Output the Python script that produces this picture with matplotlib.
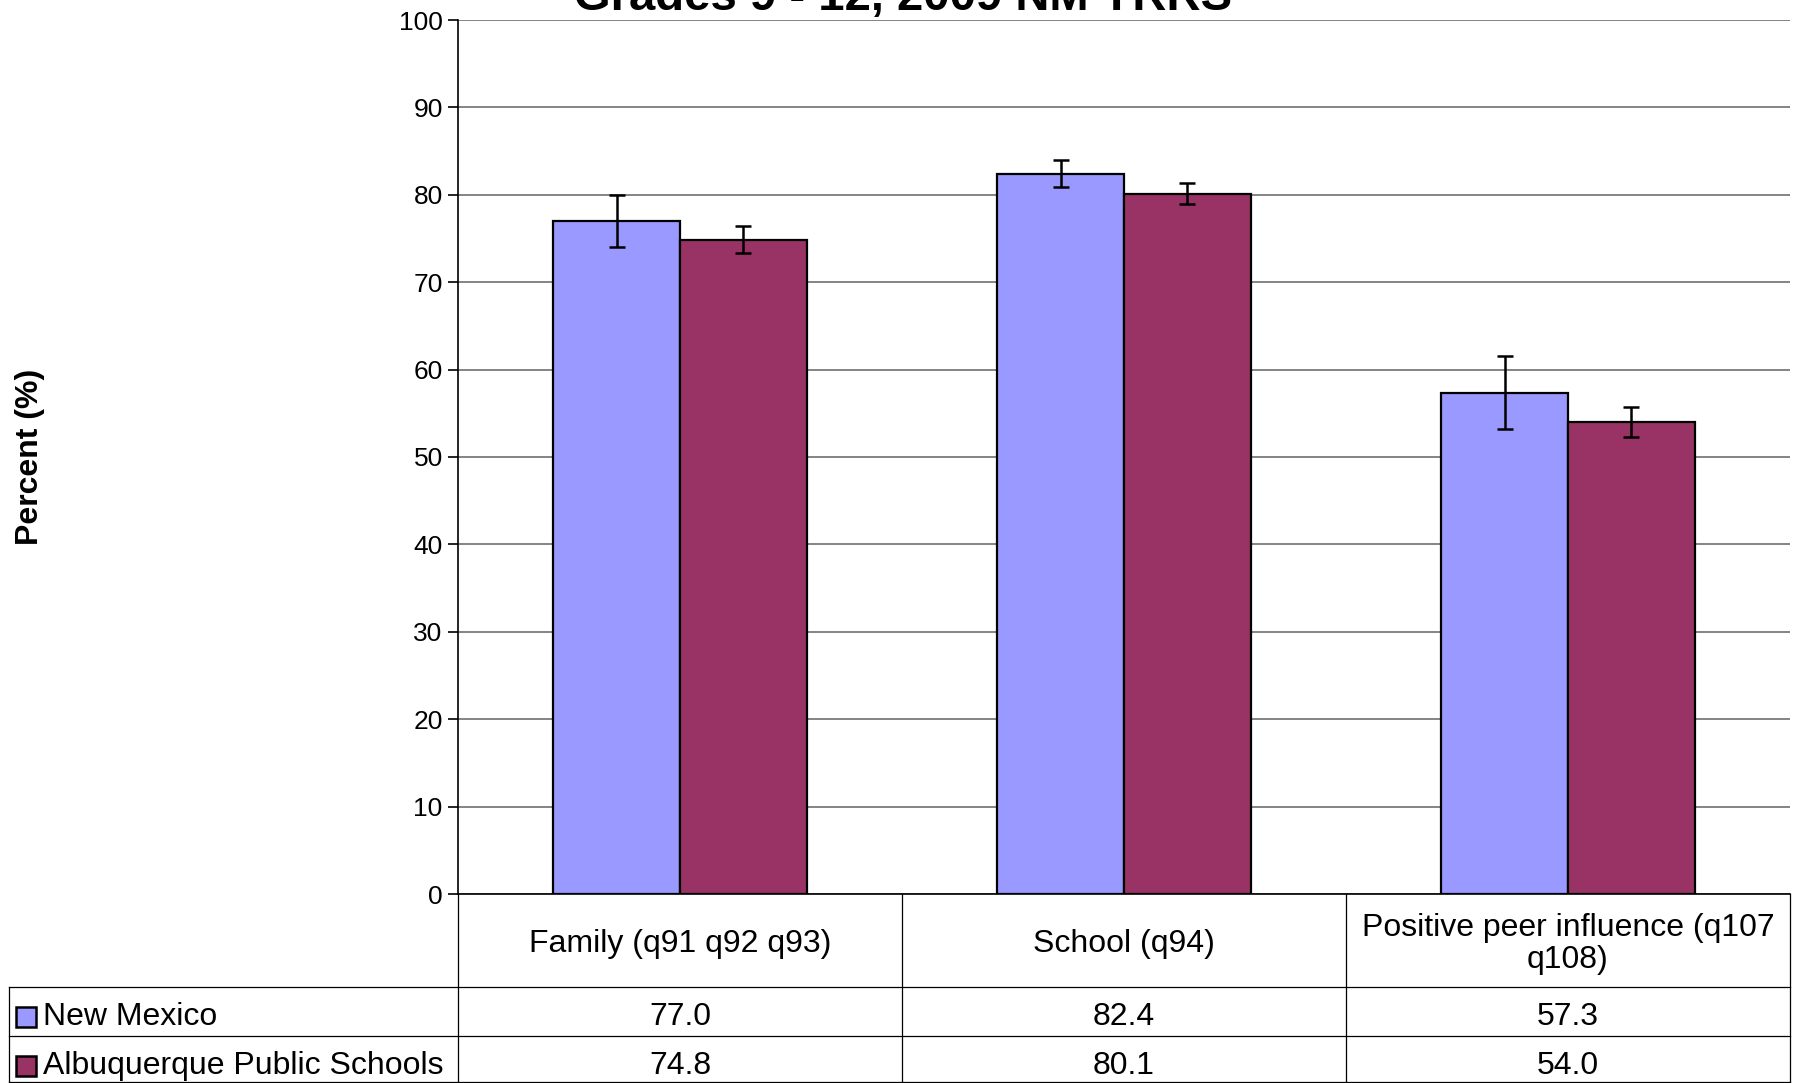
import matplotlib
matplotlib.use("Agg")
import matplotlib.pyplot as plt
import matplotlib.transforms as mtransforms
from matplotlib.patches import Rectangle
import numpy as np

plt.rcParams['font.family'] = ['Liberation Sans', 'DejaVu Sans']

# data
categories = ['Family (q91 q92 q93)', 'School (q94)', 'Positive peer influence (q107\nq108)']
series = ['New Mexico', 'Albuquerque Public Schools']
nm = [77.0, 82.4, 57.3]
aps = [74.8, 80.1, 54.0]
nm_lo = [74.0, 80.9, 53.2]
nm_hi = [80.0, 84.0, 61.6]
aps_lo = [73.3, 79.0, 52.3]
aps_hi = [76.4, 81.3, 55.7]
colors = ['#9999FF', '#993366']

W, H = 1795, 1083
fig = plt.figure(figsize=(W / 100, H / 100), dpi=100)

def fx(px):
    return px / W

def fy(py):
    return 1 - py / H

ax = fig.add_axes([fx(458), fy(894), fx(1790) - fx(458), fy(20) - fy(894)])

x = np.arange(len(categories))
w = 1 / 3.5
vals = [nm, aps]
los = [nm_lo, aps_lo]
his = [nm_hi, aps_hi]
for k in range(2):
    pos = x + (k - 0.5) * w
    v = np.array(vals[k])
    ax.bar(pos, v, width=w, color=colors[k], edgecolor='black', linewidth=1.6, zorder=3)
    yerr = [v - np.array(los[k]), np.array(his[k]) - v]
    ax.errorbar(pos, v, yerr=yerr, fmt='none', ecolor='black', elinewidth=1.8,
                capsize=6, capthick=1.8, zorder=4)

ax.set_xlim(-0.5, len(categories) - 0.5)
ax.set_ylim(0, 100)
ax.set_yticks(range(0, 101, 10))
ax.set_xticks([])
ax.yaxis.grid(True, color='#707070', linewidth=1.2)
ax.set_axisbelow(True)
for s in ['top', 'right']:
    ax.spines[s].set_visible(False)
ax.spines['left'].set_linewidth(1.2)
ax.spines['bottom'].set_linewidth(1.2)
ax.tick_params(axis='y', labelsize=19, length=7, width=1.2, pad=4)

fig.text(0.503, fy(10), 'Grades 9 - 12, 2009 NM YRRS', ha='center', va='baseline',
         fontsize=34, weight='bold')
fig.text(fx(30), 0.5 * (fy(20) + fy(894)), 'Percent (%)', rotation=90, ha='center',
         va='center', fontsize=23, weight='bold')

# data table under the axis
tr = mtransforms.blended_transform_factory(ax.transData, fig.transFigure)
lc = 'black'
lw = 0.9
for b in np.arange(-0.5, len(categories), 1.0):
    fig.add_artist(plt.Line2D([b, b], [fy(894), fy(1083)], transform=tr, color=lc, lw=lw))
for yy in [987, 1036, 1082]:
    fig.add_artist(plt.Line2D([fx(9), fx(1790)], [fy(yy), fy(yy)], color=lc, lw=lw))
fig.add_artist(plt.Line2D([fx(9), fx(9)], [fy(987), fy(1083)], color=lc, lw=lw))

for i, c in enumerate(categories):
    fig.text(x[i], fy(944), c, transform=tr, ha='center', va='center', fontsize=23,
             linespacing=1.1)

row_y = [1017, 1066]
for k in range(2):
    fig.add_artist(Rectangle((fx(16), fy(row_y[k] + 10)), fx(20), 20 / H,
                             facecolor=colors[k], edgecolor='black', lw=1.8))
    fig.text(fx(43), fy(row_y[k]), series[k], ha='left', va='center', fontsize=23)
    for i in range(len(categories)):
        fig.text(x[i], fy(row_y[k]), '%.1f' % vals[k][i], transform=tr, ha='center',
                 va='center', fontsize=23)

fig.savefig('out.png', dpi=100)
